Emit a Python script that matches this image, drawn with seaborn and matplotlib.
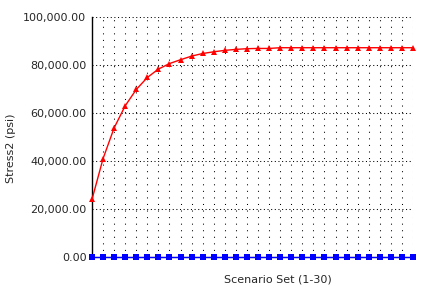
import matplotlib
matplotlib.use("Agg")
import matplotlib.pyplot as plt
import seaborn as sns
import pandas as pd
from matplotlib.ticker import MultipleLocator, FuncFormatter

scenarios = list(range(1, 31))
stress2 = [24000, 41000, 53800, 63000, 69800, 74800, 78300, 80600, 82200, 83700,
           84800, 85500, 86100, 86500, 86800, 86900, 86900, 87200, 87200, 87200,
           87200, 87200, 87200, 87200, 87200, 87200, 87200, 87200, 87200, 87200]
baseline = [0] * 30

sns.set_style("white")
plt.rcParams['font.family'] = ['DejaVu Sans']

df = pd.DataFrame({"Scenario": scenarios * 2,
                   "Value": stress2 + baseline,
                   "Series": ["Stress2"] * 30 + ["Base"] * 30})

fig = plt.figure(figsize=(4.4, 2.88), dpi=100)
ax = fig.add_axes([92/440, 1 - 257/288, (413 - 92)/440, (257 - 17)/288])

sns.lineplot(data=df, x="Scenario", y="Value", hue="Series", style="Series",
             palette={"Stress2": "#ff0000", "Base": "#0000ff"},
             markers={"Stress2": "^", "Base": "s"},
             dashes=False, markersize=5, markeredgewidth=0, linewidth=1,
             legend=False, ax=ax, clip_on=False, zorder=3)

ax.set_xlim(1, 30)
ax.set_ylim(0, 100000)
ax.xaxis.set_major_locator(MultipleLocator(1))
ax.yaxis.set_major_locator(MultipleLocator(20000))
ax.yaxis.set_minor_locator(MultipleLocator(10000))
ax.yaxis.set_major_formatter(FuncFormatter(lambda v, p: f"{v:,.2f}"))
ax.set_xticklabels([])
ax.tick_params(axis='x', length=0)
ax.tick_params(axis='y', which='both', direction='inout', length=6, width=1,
               labelsize=8, pad=1, color='black')
ax.xaxis.grid(True, which='major', color='black', linestyle=(0, (1, 5.3)), linewidth=0.75)
ax.yaxis.grid(True, which='major', color='black', linestyle=(0, (1, 2.5)), linewidth=0.75)

for s in ['top', 'right']:
    ax.spines[s].set_visible(False)
ax.spines['left'].set_color('black')
ax.spines['bottom'].set_color('black')
ax.spines['left'].set_linewidth(1)

ax.set_xlabel("")
ax.set_ylabel("")
fig.text(278/440, 1 - 280/288, "Scenario Set (1-30)", ha='center', va='center', fontsize=8)
fig.text(11/440, 1 - 148/288, "Stress2 (psi)", ha='center', va='center', rotation=90, fontsize=8)

fig.savefig("out.png", dpi=100)
